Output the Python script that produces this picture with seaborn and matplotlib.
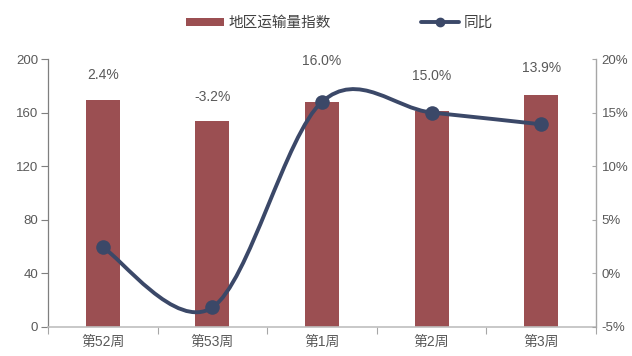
import matplotlib
matplotlib.use("Agg")
import matplotlib.pyplot as plt
from matplotlib.path import Path
from matplotlib.patches import PathPatch, Patch
from matplotlib.lines import Line2D
from matplotlib.ticker import FuncFormatter
import seaborn as sns
import pandas as pd
import numpy as np

categories = ["第52周", "第53周", "第1周", "第2周", "第3周"]
volume_index = [169, 154, 168, 161, 173]
yoy_pct = [2.4, -3.2, 16.0, 15.0, 13.9]
label_texts = ["2.4%", "-3.2%", "16.0%", "15.0%", "13.9%"]
label_heights = [188, 171.5, 198.5, 187, 193.5]  # label anchor on left axis scale
left_ticks = [0, 40, 80, 120, 160, 200]
right_ticks = [-5, 0, 5, 10, 15, 20]
bar_name = "地区运输量指数"
line_name = "同比"

BAR_C = "#9B4F52"
LINE_C = "#3B4868"
TXT_C = "#595959"

sns.set_theme(style="white")
plt.rcParams["font.family"] = ["Liberation Sans", "Noto Sans CJK SC", "DejaVu Sans"]

fig = plt.figure(figsize=(6.32, 3.56), dpi=100)
ax = fig.add_axes([48/632, 1-326.7/356, (596-48)/632, (326.7-59)/356])

df = pd.DataFrame({"cat": categories, "val": volume_index})
sns.barplot(data=df, x="cat", y="val", order=categories, color=BAR_C,
            saturation=1, width=0.31, ax=ax, zorder=2, linewidth=0)
ax.set_xlim(-0.5, len(categories) - 0.5)
ax.set_ylim(left_ticks[0], left_ticks[-1])
ax.set_yticks(left_ticks)
ax.set_xlabel("")
ax.set_ylabel("")
ax.tick_params(axis="y", which="major", direction="out", length=5, width=0.8,
               color="#7F7F7F", labelsize=9.5, labelcolor=TXT_C, pad=2, left=True)
ax.set_xticks(range(len(categories)))
ax.set_xticklabels(categories)
ax.set_xticks(np.arange(-0.5, len(categories), 1.0), minor=True)
ax.tick_params(axis="x", which="major", length=0, labelsize=10, labelcolor=TXT_C, pad=6)
ax.tick_params(axis="x", which="minor", direction="out", length=5, width=0.8,
               color="#A6A6A6", bottom=True)
for s in ["top", "right"]:
    ax.spines[s].set_visible(False)
ax.spines["left"].set_color("#7F7F7F")
ax.spines["left"].set_linewidth(0.9)
ax.spines["bottom"].set_color("#BFBFBF")
ax.spines["bottom"].set_linewidth(1.2)

# data labels
for i, (t, h) in enumerate(zip(label_texts, label_heights)):
    ax.text(i, h, t, ha="center", va="center", fontsize=10, color=TXT_C)

ax2 = ax.twinx()
ax2.set_ylim(right_ticks[0], right_ticks[-1])
ax2.set_yticks(right_ticks)
ax2.yaxis.set_major_formatter(FuncFormatter(lambda v, p: f"{v:.0f}%"))
ax2.tick_params(axis="y", direction="in", length=3, width=0.8, color="#A6A6A6",
                labelsize=9.5, labelcolor=TXT_C, pad=4, right=True)
for s in ["top", "left", "bottom"]:
    ax2.spines[s].set_visible(False)
ax2.spines["right"].set_color("#A6A6A6")
ax2.spines["right"].set_linewidth(1.0)
ax2.grid(False)
ax.grid(False)

# smoothed line (Excel-style Bezier smoothing through the data points)
xs = np.arange(len(yoy_pct), dtype=float)
ys = np.array(yoy_pct, dtype=float)
pts = np.column_stack([xs, ys])
n = len(pts)
verts = [tuple(pts[0])]
codes = [Path.MOVETO]
for i in range(n - 1):
    p_prev = pts[i - 1] if i > 0 else pts[i]
    p0 = pts[i]
    p1 = pts[i + 1]
    p_next = pts[i + 2] if i + 2 < n else pts[i + 1]
    c1 = p0 + (p1 - p_prev) / 6.0
    c2 = p1 - (p_next - p0) / 6.0
    verts += [tuple(c1), tuple(c2), tuple(p1)]
    codes += [Path.CURVE4] * 3
ax2.add_patch(PathPatch(Path(verts, codes), fill=False, edgecolor=LINE_C,
                        linewidth=2.8, capstyle="round", zorder=3))
ldf = pd.DataFrame({"x": xs, "y": ys})
sns.scatterplot(data=ldf, x="x", y="y", ax=ax2, color=LINE_C, s=110,
                edgecolor=LINE_C, linewidth=0, zorder=4, legend=False)
ax2.set_xlabel("")
ax2.set_ylabel("")
ax2.set_xlim(-0.5, len(categories) - 0.5)

handles = [Patch(facecolor=BAR_C, edgecolor="none"),
           Line2D([0], [0], color=LINE_C, lw=2.8, marker="o", markersize=6)]
fig.legend(handles, [bar_name, line_name], loc="center", bbox_to_anchor=(0.537, 0.935),
           ncol=2, frameon=False, fontsize=10.5, handlelength=2.6, handleheight=0.55,
           columnspacing=6.2, handletextpad=0.3, labelcolor="#404040")

fig.savefig("out.png", dpi=100)
